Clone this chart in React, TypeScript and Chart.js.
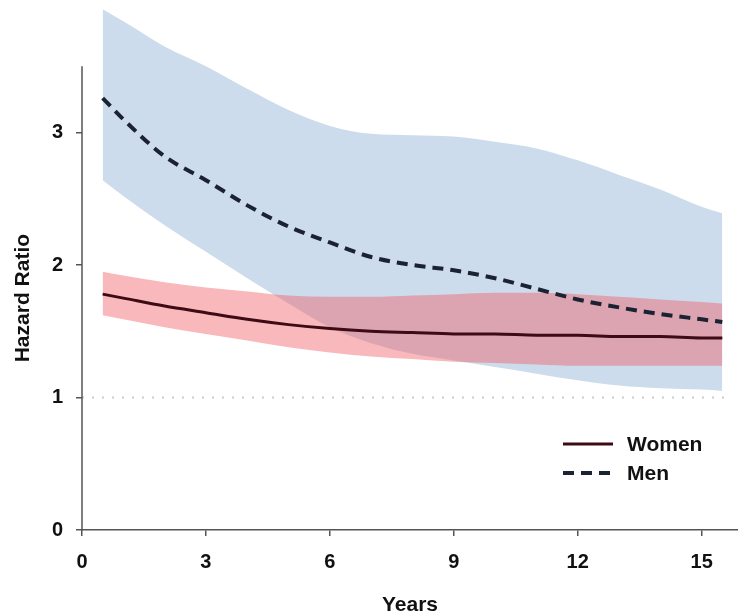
import React, { useEffect, useRef } from 'react';
import { Chart, registerables } from 'chart.js';

Chart.register(...registerables);

// ---- data ----
const years = [0.5, 1, 2, 3, 4, 5, 6, 7, 8, 9, 10, 11, 12, 13, 14, 15, 15.5];

const womenHR = [1.78, 1.75, 1.69, 1.64, 1.59, 1.55, 1.52, 1.5, 1.49, 1.48, 1.48, 1.47, 1.47, 1.46, 1.46, 1.45, 1.45];
const womenUpper = [1.95, 1.92, 1.87, 1.83, 1.8, 1.77, 1.76, 1.76, 1.77, 1.78, 1.79, 1.79, 1.78, 1.76, 1.74, 1.72, 1.71];
const womenLower = [1.62, 1.59, 1.53, 1.48, 1.43, 1.38, 1.34, 1.31, 1.29, 1.27, 1.26, 1.25, 1.24, 1.24, 1.24, 1.24, 1.24];

const menHR = [3.26, 3.1, 2.82, 2.64, 2.45, 2.29, 2.17, 2.06, 2.0, 1.96, 1.9, 1.82, 1.74, 1.68, 1.63, 1.59, 1.57];
const menUpper = [3.93, 3.84, 3.65, 3.5, 3.33, 3.17, 3.05, 2.99, 2.98, 2.97, 2.93, 2.88, 2.79, 2.68, 2.57, 2.44, 2.39];
const menLower = [2.64, 2.52, 2.3, 2.1, 1.9, 1.71, 1.53, 1.41, 1.33, 1.28, 1.23, 1.18, 1.13, 1.09, 1.07, 1.06, 1.05];

const refX = [0, 15.6];
const refY = [1, 1];

const xTicks = [0, 3, 6, 9, 12, 15];
const yTicks = [0, 1, 2, 3];
const yAxisTop = 3.5;
const seriesLabels = ['Women', 'Men'];
const xTitle = 'Years';
const yTitle = 'Hazard Ratio';

const FONT_FAMILY = '"Liberation Sans", Arial, Helvetica, sans-serif';

function pts(xs: number[], ys: number[]) {
  return xs.map((x, i) => ({ x, y: ys[i] }));
}

export default function App() {
  const ref = useRef<HTMLCanvasElement>(null);

  useEffect(() => {
    if (!ref.current) return;
    const font = { family: FONT_FAMILY, size: 20, weight: 'bold' as const };
    const titleFont = { family: FONT_FAMILY, size: 21, weight: 'bold' as const, lineHeight: 1.0 };

    const axisPlugin = {
      id: 'yAxisLineAndTitle',
      afterDraw(chart: any) {
        const ctx = chart.ctx;
        const xs = chart.scales.x;
        const ys = chart.scales.y;
        const x = xs.getPixelForValue(0);
        const yBottom = ys.getPixelForValue(0);
        const yTop = ys.getPixelForValue(yAxisTop);
        ctx.save();
        ctx.strokeStyle = '#555';
        ctx.lineWidth = 1.5;
        ctx.beginPath();
        ctx.moveTo(x, yBottom + 0.75);
        ctx.lineTo(x, yTop);
        ctx.stroke();
        // y axis title centred on the drawn axis range
        ctx.translate(23, (yBottom + yTop) / 2);
        ctx.rotate(-Math.PI / 2);
        ctx.fillStyle = '#111';
        ctx.font = `bold 21px ${FONT_FAMILY}`;
        ctx.textAlign = 'center';
        ctx.textBaseline = 'middle';
        ctx.fillText(yTitle, 0, 0);
        ctx.restore();
      },
    };

    const legendPlugin = {
      id: 'customLegend',
      afterDraw(chart: any) {
        const ctx = chart.ctx;
        const entries = [chart.data.datasets[0], chart.data.datasets[1]];
        const x0 = 563;
        const x1 = 613;
        const textX = 627;
        const rows = [444, 473];
        ctx.save();
        entries.forEach((ds: any, i: number) => {
          const y = rows[i];
          ctx.strokeStyle = ds.borderColor;
          ctx.lineWidth = ds.borderWidth;
          ctx.setLineDash(ds.borderDash || []);
          ctx.beginPath();
          ctx.moveTo(x0, y);
          ctx.lineTo(x1, y);
          ctx.stroke();
          ctx.setLineDash([]);
          ctx.fillStyle = '#111';
          ctx.font = `bold 21px ${FONT_FAMILY}`;
          ctx.textBaseline = 'middle';
          ctx.textAlign = 'left';
          ctx.fillText(ds.label, textX, y + 1);
        });
        ctx.restore();
      },
    };

    const chart = new Chart(ref.current, {
      type: 'line',
      data: {
        datasets: [
          {
            label: seriesLabels[0],
            data: pts(years, womenHR),
            borderColor: '#3d0b14',
            borderWidth: 3,
            pointRadius: 0,
            cubicInterpolationMode: 'monotone',
            fill: false,
            order: 1,
          },
          {
            label: seriesLabels[1],
            data: pts(years, menHR),
            borderColor: '#1b2333',
            borderWidth: 4,
            borderDash: [11, 7],
            pointRadius: 0,
            cubicInterpolationMode: 'monotone',
            fill: false,
            order: 0,
          },
          {
            label: 'Women upper',
            data: pts(years, womenUpper),
            borderWidth: 0,
            borderColor: 'rgba(0,0,0,0)',
            backgroundColor: 'rgba(239,94,103,0.44)',
            pointRadius: 0,
            cubicInterpolationMode: 'monotone',
            fill: '+1',
            order: 2,
          },
          {
            label: 'Women lower',
            data: pts(years, womenLower),
            borderWidth: 0,
            borderColor: 'rgba(0,0,0,0)',
            pointRadius: 0,
            cubicInterpolationMode: 'monotone',
            fill: false,
            order: 3,
          },
          {
            label: 'Men upper',
            data: pts(years, menUpper),
            borderWidth: 0,
            borderColor: 'rgba(0,0,0,0)',
            backgroundColor: 'rgb(205,220,236)',
            pointRadius: 0,
            cubicInterpolationMode: 'monotone',
            fill: '+1',
            order: 4,
          },
          {
            label: 'Men lower',
            data: pts(years, menLower),
            borderWidth: 0,
            borderColor: 'rgba(0,0,0,0)',
            pointRadius: 0,
            cubicInterpolationMode: 'monotone',
            fill: false,
            order: 5,
          },
          {
            label: 'Reference',
            data: pts(refX, refY),
            borderColor: 'rgba(170,170,170,0.6)',
            borderWidth: 2,
            borderDash: [2, 8],
            pointRadius: 0,
            fill: false,
            order: 6,
          },
        ],
      },
      options: {
        responsive: false,
        animation: false,
        layout: { padding: { top: 0, right: 0, bottom: 0, left: 0 } },
        plugins: {
          legend: { display: false },
          tooltip: { enabled: false },
        },
        scales: {
          x: {
            type: 'linear',
            min: 0,
            max: 15.88,
            afterBuildTicks: (s: any) => {
              s.ticks = xTicks.map((v) => ({ value: v }));
            },
            afterFit: (s: any) => {
              s.height = 86;
              s.paddingLeft = 0;
              s.paddingRight = 0;
              s.paddingTop = 0;
              s.paddingBottom = 0;
            },
            ticks: {
              font,
              color: '#111',
              padding: 14,
              maxRotation: 0,
              autoSkip: false,
            },
            grid: {
              drawOnChartArea: false,
              drawTicks: true,
              tickLength: 6,
              color: '#555',
              lineWidth: 1.5,
            },
            border: { display: true, color: '#555', width: 1.5 },
            title: {
              display: true,
              text: xTitle,
              font: titleFont,
              color: '#111',
              padding: { top: 0, bottom: 0 },
            },
          },
          y: {
            type: 'linear',
            min: 0,
            max: 4,
            afterBuildTicks: (s: any) => {
              s.ticks = yTicks.map((v) => ({ value: v }));
            },
            afterFit: (s: any) => {
              s.width = 82;
              s.paddingLeft = 0;
              s.paddingRight = 0;
              s.paddingTop = 0;
              s.paddingBottom = 0;
            },
            ticks: {
              font,
              color: '#111',
              padding: 13,
              autoSkip: false,
            },
            grid: {
              drawOnChartArea: false,
              drawTicks: true,
              tickLength: 6,
              color: '#555',
              lineWidth: 1.5,
            },
            border: { display: false },
            title: { display: false },
          },
        },
      },
      plugins: [axisPlugin, legendPlugin],
    } as any);

    return () => chart.destroy();
  }, []);

  return (
    <div style={{ position: 'absolute', left: 0, top: 0, width: 738, height: 616, background: '#fff' }}>
      <canvas ref={ref} width={738} height={616} style={{ display: 'block' }} />
    </div>
  );
}
